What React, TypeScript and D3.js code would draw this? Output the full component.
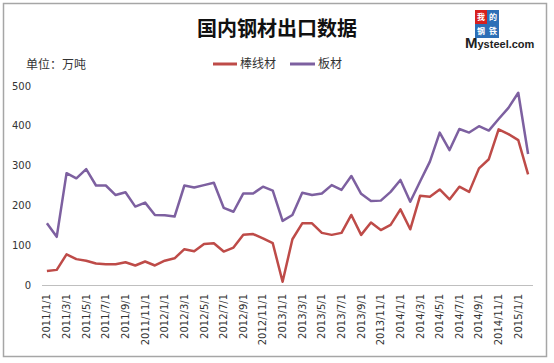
import React from 'react';
import * as d3 from 'd3';

// 2011/1 .. 2015/2, monthly
const months: string[] = [];
for (let y = 2011; y <= 2015; y++) {
  for (let m = 1; m <= 12; m++) {
    if (y === 2015 && m > 2) break;
    months.push(`${y}/${m}/1`);
  }
}

// 棒线材 (万吨)
const barWire = [
  35, 38, 77, 65, 61, 54, 52, 52, 57, 49, 59, 49,
  61, 67, 90, 85, 103, 105, 84, 94, 126, 128, 117, 105,
  8, 115, 155, 155, 131, 126, 131, 176, 126, 157, 138, 151,
  190, 140, 224, 222, 240, 215, 247, 234, 293, 316, 391, 379,
  364, 278,
];

// 板材 (万吨)
const plate = [
  155, 121, 281, 268, 291, 250, 250, 226, 233, 197, 207, 176,
  175, 172, 250, 245, 251, 257, 194, 184, 230, 230, 247, 237,
  161, 176, 232, 226, 230, 251, 239, 274, 229, 211, 212, 234,
  264, 209, 260, 310, 383, 339, 392, 383, 399, 388, 417, 445,
  483, 329,
];

const yTicks = [0, 100, 200, 300, 400, 500];

const RED = '#BE4B48';
const PURPLE = '#7D60A0';
const TEXT = '#333333';
const CJK = '"Noto Sans CJK SC", sans-serif';
const LATIN = '"DejaVu Sans", Verdana, sans-serif';

export default function App() {
  const W = 554;
  const H = 363;

  const x = d3.scaleBand<string>().domain(months).range([42, 533]);
  const y = d3.scaleLinear().domain([0, 500]).range([285, 86]);
  const cx = (d: string) => (x(d) ?? 0) + x.bandwidth() / 2;

  const line = d3
    .line<number>()
    .x((_, i) => cx(months[i]))
    .y((v) => y(v));

  const xLabels = months.filter((_, i) => i % 2 === 0);

  // logo cells: char, column, row, background
  const logo: [string, number, number, string][] = [
    ['我', 0, 0, '#d7201e'],
    ['的', 1, 0, '#2d6fb7'],
    ['钢', 0, 1, '#2d6fb7'],
    ['铁', 1, 1, '#2d6fb7'],
  ];

  return (
    <svg
      width={W}
      height={H}
      style={{ position: 'absolute', left: 0, top: 0, background: '#fff' }}
    >
      <rect x={3.5} y={3.5} width={543} height={353} fill="#fff" stroke="#a6a6a6" strokeWidth={1.5} />

      {/* title */}
      <text x={277} y={36} textAnchor="middle" fontFamily={CJK} fontWeight="bold" fontSize={20} fill="#111">
        国内钢材出口数据
      </text>
      <text x={26} y={69} fontFamily={CJK} fontSize={12} fill={TEXT}>
        单位：万吨
      </text>

      {/* legend */}
      <line x1={213} x2={237} y1={64} y2={64} stroke={RED} strokeWidth={3} />
      <text x={240} y={68} fontFamily={CJK} fontSize={12} fill={TEXT}>棒线材</text>
      <line x1={290} x2={315} y1={64} y2={64} stroke={PURPLE} strokeWidth={3} />
      <text x={318} y={68} fontFamily={CJK} fontSize={12} fill={TEXT}>板材</text>

      {/* logo */}
      <g fontFamily={CJK} fontWeight="bold" fontSize={8} fill="#fff" textAnchor="middle">
        {logo.map(([c, col, row, bg]) => (
          <g key={c}>
            <rect x={475 + col * 12} y={10 + row * 14} width={12} height={14} fill={bg} />
            <text x={481 + col * 12} y={20 + row * 14}>{c}</text>
          </g>
        ))}
      </g>
      <text x={465} y={48} fontFamily="Liberation Sans, Arial, sans-serif" fontWeight="bold" fontSize={11} fill="#222">
        <tspan fontSize={15}>M</tspan>ysteel.com
      </text>

      {/* y axis labels */}
      {yTicks.map((t) => (
        <text key={t} x={31} y={y(t)} dy="0.35em" textAnchor="end" fontFamily={LATIN} fontSize={10} fill={TEXT}>
          {t}
        </text>
      ))}

      {/* x axis */}
      <line x1={42} x2={533} y1={285.5} y2={285.5} stroke="#bfbfbf" strokeWidth={1} />
      {xLabels.map((m) => (
        <text
          key={m}
          transform={`translate(${cx(m)},294) rotate(-90)`}
          dy="0.35em"
          textAnchor="end"
          fontFamily={LATIN}
          fontSize={10}
          fill={TEXT}
        >
          {m}
        </text>
      ))}

      {/* series */}
      <path d={line(plate) ?? ''} fill="none" stroke={PURPLE} strokeWidth={2.5} strokeLinejoin="round" />
      <path d={line(barWire) ?? ''} fill="none" stroke={RED} strokeWidth={2.5} strokeLinejoin="round" />
    </svg>
  );
}
